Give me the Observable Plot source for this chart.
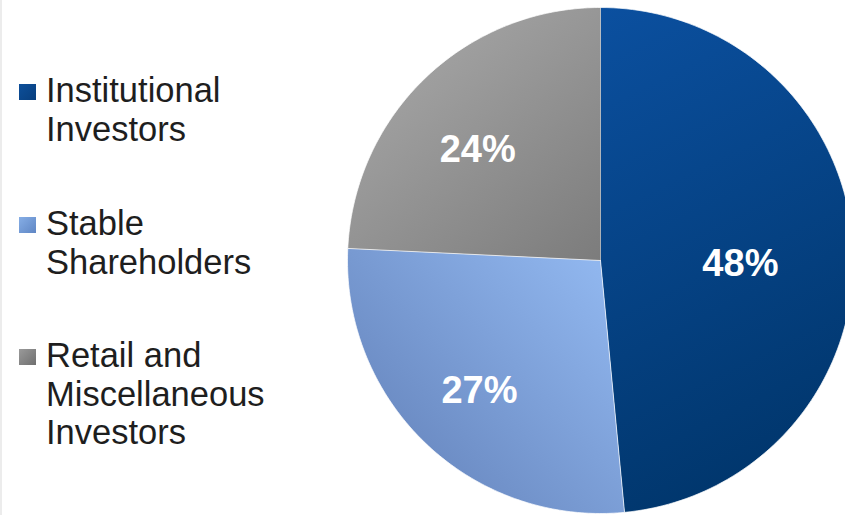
<!DOCTYPE html>
<html>
<head>
<meta charset="utf-8">
<script src="https://cdn.jsdelivr.net/npm/d3@7"></script>
<script src="https://cdn.jsdelivr.net/npm/@observablehq/plot@0.6"></script>
<style>
  html, body { margin: 0; padding: 0; background: #fff; }
  #wrap { position: relative; width: 845px; height: 515px; overflow: hidden; font-family: "Liberation Sans", Arial, sans-serif; border-left: 2px solid #ececec; box-sizing: border-box; }
  #chart { position: absolute; left: -2px; top: 0; }
  #legend { position: absolute; left: 17px; top: 0; }
  .item { position: absolute; left: 0; display: flex; align-items: flex-start; width: 320px; }
  .sw { width: 17px; height: 16px; margin-top: 13px; margin-right: 10px; flex: none; }
  .lab { font-size: 34.5px; line-height: 38.5px; color: #1e1e1e; }
</style>
</head>
<body>
<div id="wrap">
  <div id="chart"></div>
  <div id="legend"></div>
</div>
<script>
// ---- data ----
const categories = ["Institutional Investors", "Stable Shareholders", "Retail and Miscellaneous Investors"];
const legendLines = [["Institutional", "Investors"], ["Stable", "Shareholders"], ["Retail and", "Miscellaneous", "Investors"]];
const values = [48, 27, 24];
const labels = ["48%", "27%", "24%"];

// ---- style ----
const gradients = [
  {id: "g0", c1: "#0b50a0", c2: "#00356a", x1: 600, y1: 0, x2: 830, y2: 470},
  {id: "g1", c1: "#90b6ee", c2: "#6685bd", x1: 600, y1: 270, x2: 380, y2: 470},
  {id: "g2", c1: "#a3a3a3", c2: "#7c7c7c", x1: 420, y1: 40, x2: 600, y2: 260}
];
const swatch = ["linear-gradient(135deg,#0d4f9a,#083f7e)", "linear-gradient(135deg,#86aee6,#5f86c4)", "linear-gradient(135deg,#9a9a9a,#6f6f6f)"];
const labelRadius = [0.553, 0.70, 0.657];
const labelAngleShift = [3.5, -0.5, -4]; // degrees
const legendTops = [71, 204, 336];

const W = 845, H = 515, cx = 600, cy = 260, R = 253;

// pie angles (clockwise from 12 o'clock)
const pie = d3.pie().sort(null).value(d => d)(values);
const slices = pie.map((p, i) => {
  const pts = [{cat: categories[i], u: 0, v: 0}];
  const n = 120;
  for (let k = 0; k <= n; k++) {
    const a = p.startAngle + (p.endAngle - p.startAngle) * k / n;
    pts.push({cat: categories[i], u: Math.sin(a), v: Math.cos(a)});
  }
  return pts;
});
const labelData = pie.map((p, i) => {
  const a = (p.startAngle + p.endAngle) / 2 + labelAngleShift[i] * Math.PI / 180;
  return {text: labels[i], u: labelRadius[i] * Math.sin(a), v: labelRadius[i] * Math.cos(a)};
});

const plot = Plot.plot({
  width: W,
  height: H,
  margin: 0,
  x: {domain: [-cx / R, (W - cx) / R], axis: null},
  y: {domain: [-(H - cy) / R, cy / R], axis: null},
  marks: [
    ...slices.map((pts, i) => Plot.line(pts, {x: "u", y: "v", fill: `url(#${gradients[i].id})`, stroke: "#ffffff", strokeWidth: 1, strokeOpacity: 0.7, curve: "linear"})),
    Plot.text(labelData, {x: "u", y: "v", dy: 1, text: "text", fill: "white", fontSize: 38, fontWeight: "bold", fontFamily: "Liberation Sans, Arial, sans-serif"})
  ]
});

// gradients
const ns = "http://www.w3.org/2000/svg";
const defs = document.createElementNS(ns, "defs");
gradients.forEach(g => {
  const lg = document.createElementNS(ns, "linearGradient");
  lg.setAttribute("id", g.id);
  lg.setAttribute("gradientUnits", "userSpaceOnUse");
  lg.setAttribute("x1", g.x1); lg.setAttribute("y1", g.y1);
  lg.setAttribute("x2", g.x2); lg.setAttribute("y2", g.y2);
  [[0, g.c1], [1, g.c2]].forEach(([o, c]) => {
    const s = document.createElementNS(ns, "stop");
    s.setAttribute("offset", o); s.setAttribute("stop-color", c);
    lg.appendChild(s);
  });
  defs.appendChild(lg);
});
plot.insertBefore(defs, plot.firstChild);
document.getElementById("chart").appendChild(plot);

// legend
const leg = document.getElementById("legend");
categories.forEach((c, i) => {
  const it = document.createElement("div");
  it.className = "item";
  it.style.top = legendTops[i] + "px";
  const sw = document.createElement("div");
  sw.className = "sw";
  sw.style.background = swatch[i];
  const lab = document.createElement("div");
  lab.className = "lab";
  lab.innerHTML = legendLines[i].join("<br>");
  it.appendChild(sw); it.appendChild(lab);
  leg.appendChild(it);
});
</script>
</body>
</html>
